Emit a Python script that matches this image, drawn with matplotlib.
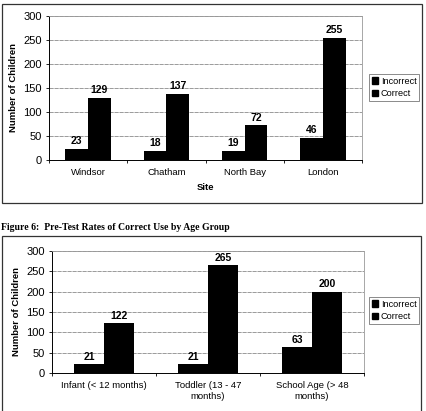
import numpy as np
import matplotlib.pyplot as plt
from matplotlib.patches import Rectangle

sites = ["Windsor", "Chatham", "North Bay", "London"]
site_incorrect = [23, 18, 19, 46]
site_correct = [129, 137, 72, 255]

ages = ["Infant (< 12 months)", "Toddler (13 - 47\nmonths)", "School Age (> 48\nmonths)"]
age_incorrect = [21, 21, 63]
age_correct = [122, 265, 200]

W, H = 426, 411
plt.rcParams['font.family'] = ['Liberation Sans', 'DejaVu Sans']
fig = plt.figure(figsize=(W / 100, H / 100), dpi=100)


def px_axes(l, t, r, b):
    return fig.add_axes([l / W, 1 - b / H, (r - l) / W, (b - t) / H])


def bar_chart(ax, cats, inc, cor, xlabel=None):
    x = np.arange(len(cats))
    w = 0.29
    ax.bar(x - w / 2, inc, w, color='black', label='Incorrect')
    ax.bar(x + w / 2, cor, w, color='black', label='Correct')
    for xi, v in zip(x - w / 2, inc):
        ax.text(xi, v + 6, str(v), ha='center', va='bottom', fontsize=7.5, fontweight='bold')
    for xi, v in zip(x + w / 2, cor):
        ax.text(xi, v + 6, str(v), ha='center', va='bottom', fontsize=7.5, fontweight='bold')
    ax.set_xlim(-0.5, len(cats) - 0.5)
    ax.set_ylim(0, 300)
    ax.set_yticks(range(0, 301, 50))
    ax.set_xticks(np.arange(len(cats) + 1) - 0.5)
    ax.set_xticklabels([])
    ax.set_xticks(x, minor=True)
    ax.set_xticklabels(cats, minor=True, fontsize=6.8)
    ax.tick_params(axis='x', which='minor', length=0, pad=6)
    ax.tick_params(axis='x', which='major', length=2, width=0.6)
    ax.tick_params(axis='y', length=2, width=0.6, labelsize=8, pad=3)
    ax.yaxis.grid(True, color='#8a8a8a', linewidth=0.6, linestyle=(0, (5, 1)))
    ax.set_axisbelow(True)
    for s in ['top', 'right']:
        ax.spines[s].set_color('#999999')
        ax.spines[s].set_linewidth(0.6)
        ax.spines[s].set_linestyle((0, (4, 1)))
    for s in ['left', 'bottom']:
        ax.spines[s].set_linewidth(0.7)
    ax.set_ylabel('Number of Children', fontsize=6.8, fontweight='bold', labelpad=4)
    if xlabel:
        ax.set_xlabel(xlabel, fontsize=6.8, fontweight='bold', labelpad=4)


ax1 = px_axes(49, 16, 362, 160)
bar_chart(ax1, sites, site_incorrect, site_correct, 'Site')
ax2 = px_axes(52, 251, 364, 373)
bar_chart(ax2, ages, age_incorrect, age_correct)

handles = [Rectangle((0, 0), 1, 1, color='black'), Rectangle((0, 0), 1, 1, color='black')]
for top in (74, 297):
    fig.legend(handles, ['Incorrect', 'Correct'], loc='upper left',
               bbox_to_anchor=(369 / W, 1 - top / H), fontsize=6.6,
               frameon=True, fancybox=False, edgecolor='#555555',
               handlelength=0.7, handleheight=0.7, handletextpad=0.3,
               borderpad=0.3, labelspacing=0.35, borderaxespad=0).get_frame().set_linewidth(0.6)

# outer frames from the scanned page
fig.add_artist(Rectangle((2 / W, 1 - 203 / H), 420 / W, 199 / H, fill=False,
                         edgecolor='#333333', linewidth=0.9, transform=fig.transFigure))
fig.add_artist(Rectangle((2 / W, -0.02), 419 / W, 0.02 + 1 - 236 / H, fill=False,
                         edgecolor='#333333', linewidth=0.9, transform=fig.transFigure))

fig.text(1 / W, 1 - 227 / H, 'Figure 6:  Pre-Test Rates of Correct Use by Age Group',
         fontsize=7, fontweight='bold', family=['Liberation Serif', 'DejaVu Serif'],
         ha='left', va='center')

fig.savefig('out.png', dpi=100)
